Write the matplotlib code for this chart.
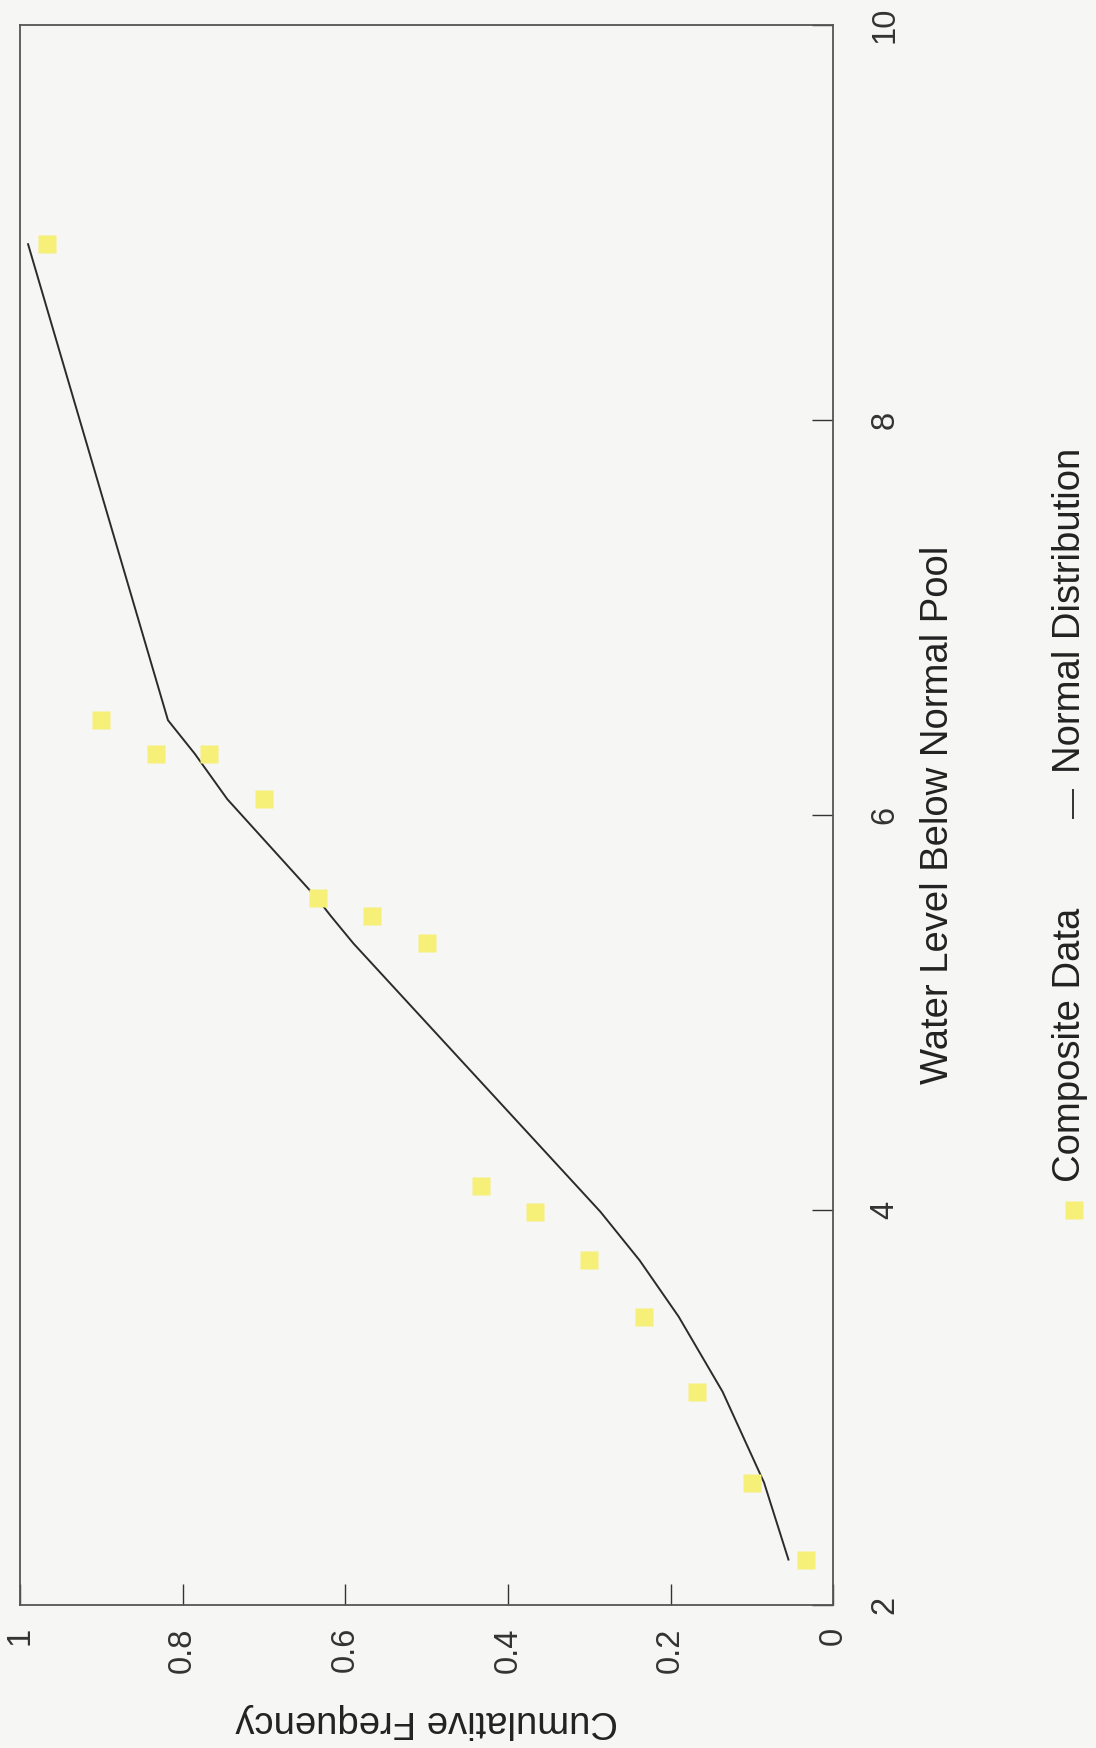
import matplotlib
matplotlib.use('Agg')
import matplotlib.pyplot as plt
from matplotlib.lines import Line2D

# composite data: water level below normal pool vs cumulative frequency
level = [2.23, 2.62, 3.08, 3.46, 3.745, 3.99, 4.12, 5.35, 5.49, 5.58, 6.08, 6.31, 6.31, 6.48, 8.89]
freq = [0.033, 0.10, 0.167, 0.233, 0.30, 0.367, 0.433, 0.50, 0.567, 0.633, 0.70, 0.767, 0.833, 0.90, 0.967]

# fitted normal distribution, evaluated at the observed levels
norm_level = [2.23, 2.62, 3.08, 3.46, 3.745, 3.99, 4.12, 5.35, 5.49, 5.58, 6.08, 6.31, 6.48, 8.89]
norm_freq = [0.055, 0.085, 0.136, 0.19, 0.238, 0.286, 0.315, 0.59, 0.618, 0.635, 0.745, 0.785, 0.818, 0.99]

level_ticks = [2, 4, 6, 8, 10]
freq_ticks = [0, 0.2, 0.4, 0.6, 0.8, 1]
freq_labels = ['0', '0.2', '0.4', '0.6', '0.8', '1']

plt.rcParams['font.family'] = ['Liberation Sans', 'DejaVu Sans']
bg = '#f6f6f5'

fig = plt.figure(figsize=(10.96, 17.48), dpi=100, facecolor=bg)
ax = fig.add_axes([0.0182, 0.0818, 0.742, 0.9039])
ax.set_facecolor(bg)

# chart is drawn turned a quarter turn: frequency runs right-to-left, level bottom-to-top
ax.plot(norm_freq, norm_level, color='#2b2b2b', lw=1.4, zorder=2)
ax.plot(freq, level, 's', color='#f6ef78', ms=13, mec='none', zorder=3)

ax.set_xlim(1, 0)
ax.set_ylim(2, 10)
ax.set_xticks(freq_ticks)
ax.set_xticklabels(freq_labels, rotation=90, fontsize=23.5)
ax.set_yticks(level_ticks)
ax.set_yticklabels([str(v) for v in level_ticks], rotation=90, fontsize=23.5, va='center')
ax.yaxis.tick_right()
ax.yaxis.set_label_position('right')
ax.tick_params(axis='x', direction='in', length=15, width=1, pad=16, colors='#333333')
ax.tick_params(axis='y', direction='in', length=15, width=1, pad=26, colors='#333333')

for s in ax.spines.values():
    s.set_color('#555555')
    s.set_linewidth(1.3)

ax.set_xlabel('Cumulative Frequency', rotation=180, fontsize=27.5, labelpad=22, color='#222222')
ax.set_ylabel('Water Level Below Normal Pool', rotation=90, fontsize=27.5, labelpad=14, color='#222222')

# legend, laid out sideways like the rest of the chart
fig.add_artist(Line2D([0.980], [0.3078], marker='s', color='#f6ef78', ms=13, mec='none',
                      transform=fig.transFigure))
fig.text(0.9763, 0.3238, 'Composite Data', rotation=90, ha='center', va='bottom',
         fontsize=27.5, color='#222222')
fig.add_artist(Line2D([0.979, 0.979], [0.532, 0.548], color='#333333', lw=1.4,
                      transform=fig.transFigure))
fig.text(0.9763, 0.5577, 'Normal Distribution', rotation=90, ha='center', va='bottom',
         fontsize=27.5, color='#222222')

fig.savefig('out.png', dpi=100, facecolor=bg)
